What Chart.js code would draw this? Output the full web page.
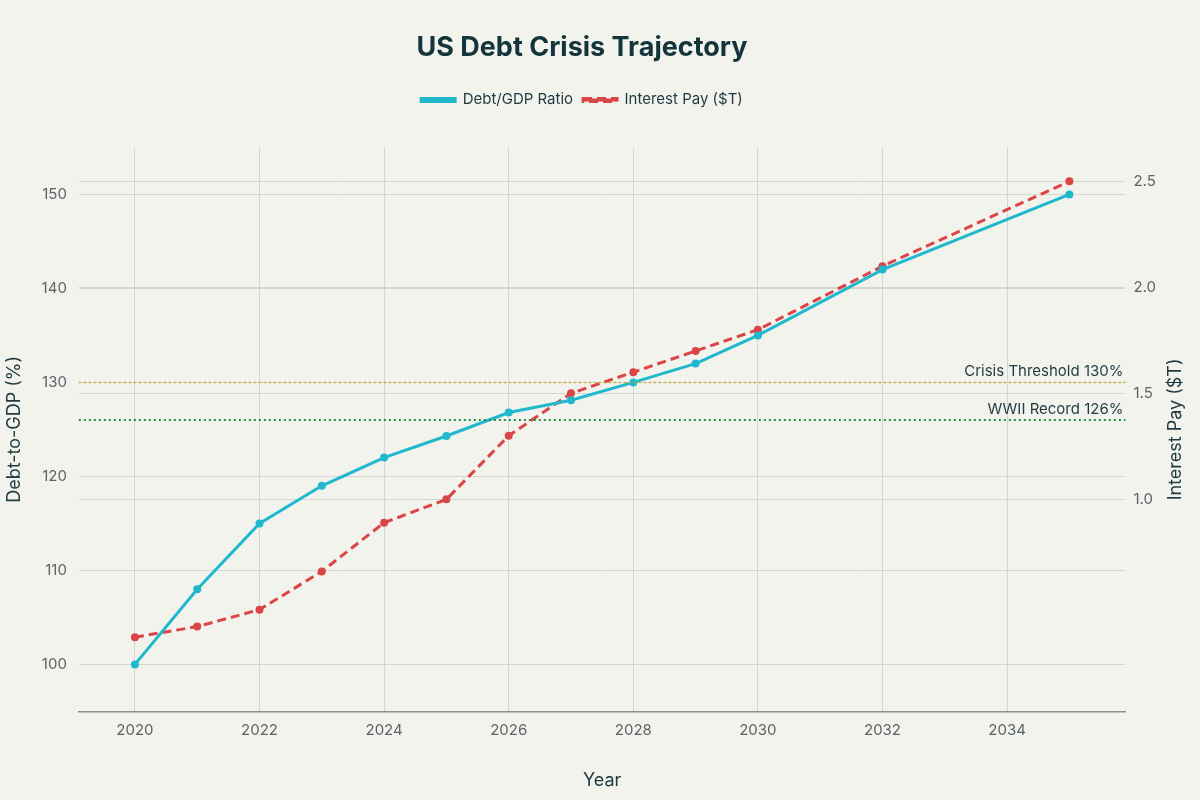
<!DOCTYPE html>
<html>
<head>
<meta charset="utf-8">
<script src="https://cdn.jsdelivr.net/npm/chart.js@4"></script>
<style>
  html, body { margin: 0; background: #f3f3ee; }
  #wrap { width: 1200px; height: 800px; }
</style>
</head>
<body>
<div id="wrap"><canvas id="myChart" width="1200" height="800"></canvas></div>
<script>
var years = [2020, 2021, 2022, 2023, 2024, 2025, 2026, 2027, 2028, 2029, 2030, 2032, 2035];
var debtGdp = [100, 108, 115, 119, 122, 124.3, 126.8, 128.1, 130, 132, 135, 142, 150];
var interestPay = [0.35, 0.40, 0.48, 0.66, 0.89, 1.0, 1.30, 1.50, 1.60, 1.70, 1.80, 2.10, 2.50];
var thresholds = [
  { value: 130, label: 'Crisis Threshold 130%', color: '#d4a72c' },
  { value: 126, label: 'WWII Record 126%', color: '#1e8c45' }
];

function pts(vals) {
  return years.map(function(y, i) { return { x: y, y: vals[i] }; });
}

var thresholdPlugin = {
  id: 'thresholds',
  beforeInit: function(chart) {
    var fit = chart.legend.fit;
    chart.legend.fit = function() {
      fit.bind(chart.legend)();
      this.height += 30;
    };
  },
  afterDatasetsDraw: function(chart) {
    var ctx = chart.ctx, area = chart.chartArea, yS = chart.scales.y;
    thresholds.forEach(function(t) {
      var py = yS.getPixelForValue(t.value);
      ctx.save();
      ctx.strokeStyle = t.color;
      ctx.lineWidth = t.value === 126 ? 2 : 1.5;
      ctx.setLineDash([2, 3]);
      ctx.beginPath();
      ctx.moveTo(area.left, py);
      ctx.lineTo(area.right, py);
      ctx.stroke();
      ctx.setLineDash([]);
      ctx.fillStyle = '#1f3a40';
      ctx.font = '15px Inter';
      ctx.textAlign = 'right';
      ctx.textBaseline = 'bottom';
      ctx.fillText(t.label, area.right - 2, py - 3);
      ctx.restore();
    });
    // right axis title, reading upward
    ctx.save();
    ctx.translate(1176, (area.top + area.bottom) / 2);
    ctx.rotate(-Math.PI / 2);
    ctx.fillStyle = '#1f3a40';
    ctx.font = '18px Inter';
    ctx.textAlign = 'center';
    ctx.textBaseline = 'middle';
    ctx.fillText('Interest Pay ($T)', 0, 0);
    ctx.restore();
  }
};

var ctx = document.getElementById('myChart').getContext('2d');
Chart.defaults.font.family = 'Inter';
Chart.defaults.color = '#5b6366';
new Chart(ctx, {
  type: 'line',
  data: {
    datasets: [{
      label: 'Debt/GDP Ratio',
      data: pts(debtGdp),
      yAxisID: 'y',
      borderColor: '#1fb8cd',
      backgroundColor: '#1fb8cd',
      borderWidth: 3,
      pointRadius: 2.5,
      tension: 0
    }, {
      label: 'Interest Pay ($T)',
      data: pts(interestPay),
      yAxisID: 'y1',
      borderColor: '#db4545',
      backgroundColor: '#db4545',
      borderWidth: 3,
      borderDash: [9, 5],
      pointRadius: 2.5,
      tension: 0
    }]
  },
  options: {
    responsive: false,
    animation: false,
    layout: { padding: { left: 0, right: 36, top: 10, bottom: 5 } },
    plugins: {
      title: {
        display: true,
        text: 'US Debt Crisis Trajectory',
        color: '#13343b',
        font: { size: 27, weight: 'bold' },
        padding: { top: 22, bottom: 18 }
      },
      legend: {
        position: 'top',
        labels: {
          color: '#1f3a40',
          font: { size: 15 },
          boxWidth: 34,
          boxHeight: 3,
          padding: 10
        }
      }
    },
    scales: {
      x: {
        type: 'linear',
        min: 2019.1,
        max: 2035.9,
        afterBuildTicks: function(s) {
          s.ticks = [2020, 2022, 2024, 2026, 2028, 2030, 2032, 2034].map(function(v) { return { value: v }; });
        },
        ticks: { font: { size: 15 }, callback: function(v) { return String(v); }, padding: 10 },
        grid: { color: '#d6d6d0', drawTicks: false },
        border: { color: '#8a8f90', width: 1.5 },
        title: { display: true, text: 'Year', color: '#1f3a40', font: { size: 18 }, padding: { top: 20 } }
      },
      y: {
        position: 'left',
        min: 95,
        max: 155,
        afterBuildTicks: function(s) {
          s.ticks = [100, 110, 120, 130, 140, 150].map(function(v) { return { value: v }; });
        },
        ticks: { font: { size: 15 }, padding: 12 },
        grid: { color: '#d6d6d0', drawTicks: false },
        border: { display: false },
        title: { display: true, text: 'Debt-to-GDP (%)', color: '#1f3a40', font: { size: 18 } }
      },
      y1: {
        position: 'right',
        min: 0,
        max: 2.66,
        afterBuildTicks: function(s) {
          s.ticks = [1.0, 1.5, 2.0, 2.5].map(function(v) { return { value: v }; });
        },
        ticks: { font: { size: 15 }, padding: 8, callback: function(v) { return v.toFixed(1); } },
        grid: { color: '#d6d6d0', drawTicks: false },
        border: { display: false }
      }
    }
  },
  plugins: [thresholdPlugin]
});
</script>
</body>
</html>
